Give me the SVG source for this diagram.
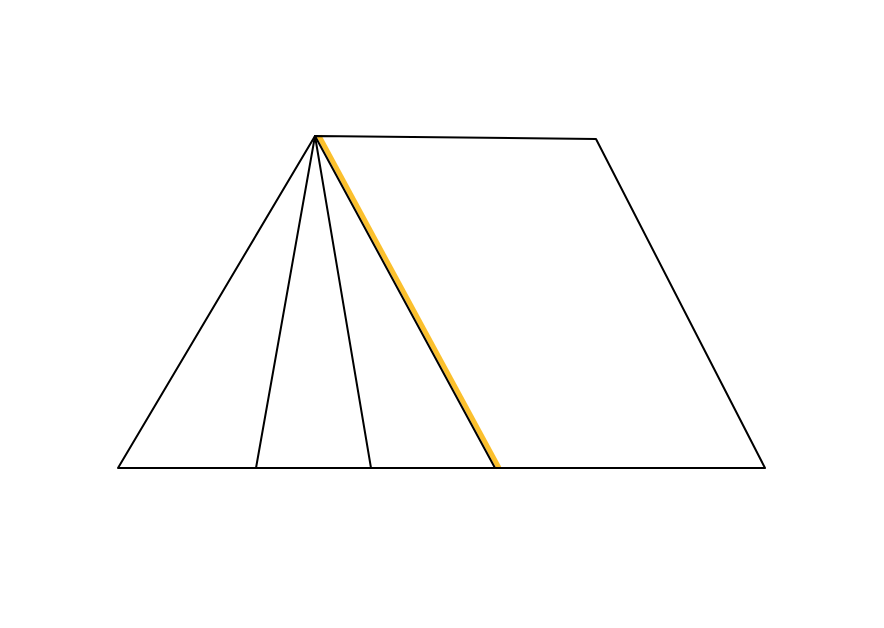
<svg xmlns="http://www.w3.org/2000/svg" width="884" height="628" viewBox="0 0 884 628">
<style>
.e{stroke:#000;stroke-width:2;fill:none;stroke-linecap:round;stroke-linejoin:round}
.h{stroke:#FBC02D;stroke-width:5;fill:none}
</style>
<rect width="884" height="628" fill="#fff"/>
<g id="highlight"><line class="h" x1="319" y1="136" x2="499" y2="468"/></g>
<g id="shape">
<path class="e" d="M315 136 L596 139 L765 468 L118 468 Z"/>
</g>
<g id="connectors">
<line class="e" x1="315" y1="136" x2="256" y2="468"/>
<line class="e" x1="315" y1="136" x2="371" y2="468"/>
<line class="e" x1="315" y1="136" x2="495" y2="468"/>
</g>
</svg>
